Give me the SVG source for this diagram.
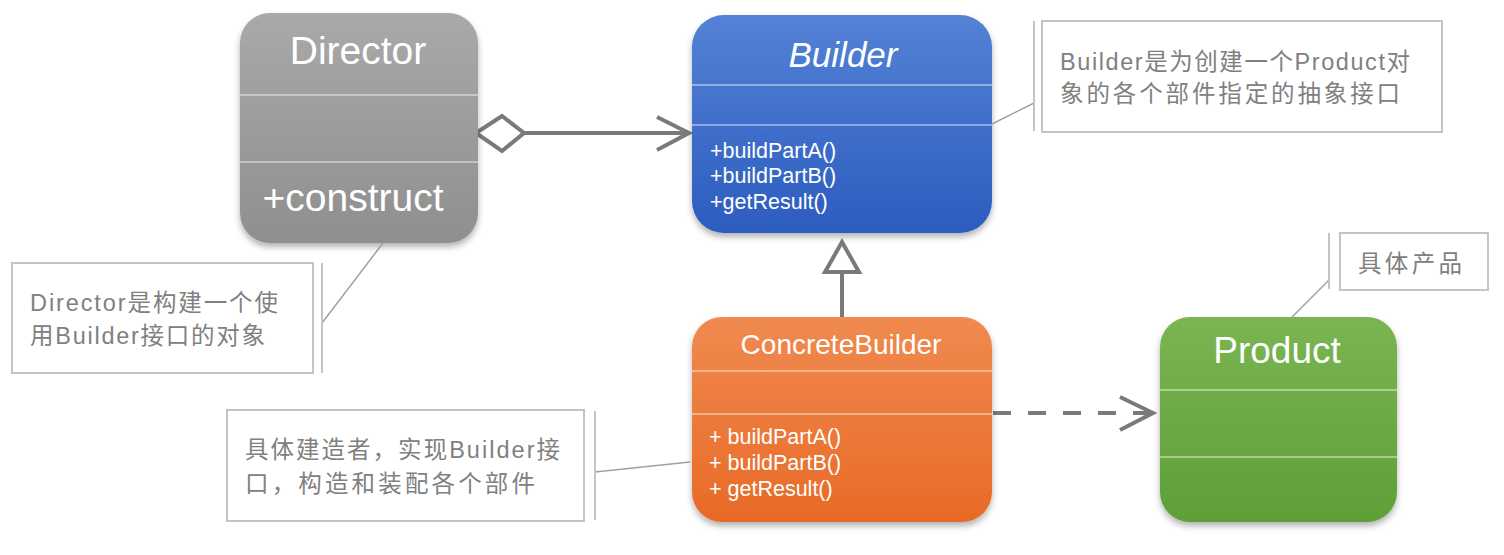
<svg xmlns="http://www.w3.org/2000/svg" width="1504" height="555" viewBox="0 0 1504 555">
<style>
.title{font-family:"Liberation Sans","Noto Sans CJK SC",sans-serif;fill:#ffffff;text-anchor:middle}
.meth{font-family:"Liberation Sans","Noto Sans CJK SC",sans-serif;fill:#ffffff;font-size:21.5px}
.note{font-family:"Liberation Sans","Noto Sans CJK SC",sans-serif;fill:#808080;font-size:23.5px}
.nbox{fill:#ffffff;stroke:#c4c4c4;stroke-width:2}
.nbar{stroke:#c4c4c4;stroke-width:2}
.lead{stroke:#a0a0a0;stroke-width:1.5;fill:none}
.div{stroke:#ffffff;stroke-opacity:0.55;stroke-width:1.5}
.conn{stroke:#7a7a7a;stroke-width:4;fill:none}
</style>
<defs>
<linearGradient id="gGray" x1="0" y1="0" x2="0" y2="1"><stop offset="0" stop-color="#a9a9a9"/><stop offset="1" stop-color="#8f8f8f"/></linearGradient>
<linearGradient id="gBlue" x1="0" y1="0" x2="0" y2="1"><stop offset="0" stop-color="#5482d6"/><stop offset="1" stop-color="#2c5cbf"/></linearGradient>
<linearGradient id="gOrange" x1="0" y1="0" x2="0" y2="1"><stop offset="0" stop-color="#f08a50"/><stop offset="1" stop-color="#e86a26"/></linearGradient>
<linearGradient id="gGreen" x1="0" y1="0" x2="0" y2="1"><stop offset="0" stop-color="#7ab552"/><stop offset="1" stop-color="#5e9f38"/></linearGradient>
<filter id="sh" x="-10%" y="-10%" width="120%" height="125%"><feDropShadow dx="0" dy="4" stdDeviation="3" flood-color="#000" flood-opacity="0.3"/></filter>
</defs>
<rect width="1504" height="555" fill="#ffffff"/>

<g id="connectors">
  <line class="conn" x1="523" y1="133" x2="688" y2="133"/>
  <polygon class="conn" points="476,133 502,116 524,133 502,151" fill="#ffffff"/>
  <polyline class="conn" points="657,117 689,133 657,150"/>
  <line class="conn" x1="842" y1="317" x2="842" y2="272"/>
  <polygon class="conn" points="842,242 859,272 825,272" fill="#ffffff"/>
  <line class="conn" x1="993" y1="413" x2="1150" y2="413" stroke-width="5" stroke-dasharray="18 17"/>
  <polyline class="conn" points="1120,397 1153,413 1120,430" stroke-width="5"/>
</g>

<g id="director">
  <rect x="240" y="13" width="238" height="230" rx="30" fill="url(#gGray)" filter="url(#sh)"/>
  <line class="div" x1="240" y1="95" x2="478" y2="95"/>
  <line class="div" x1="240" y1="162" x2="478" y2="162"/>
  <text class="title" x="358" y="64" font-size="39">Director</text>
  <text class="title" x="353" y="211" font-size="39">+construct</text>
</g>

<g id="builder">
  <rect x="692" y="15" width="300" height="218" rx="32" fill="url(#gBlue)" filter="url(#sh)"/>
  <line class="div" x1="692" y1="85" x2="992" y2="85"/>
  <line class="div" x1="692" y1="125" x2="992" y2="125"/>
  <text class="title" x="843" y="67" font-size="35" font-style="italic">Builder</text>
  <text class="meth" x="710" y="158">+buildPartA()</text>
  <text class="meth" x="710" y="183">+buildPartB()</text>
  <text class="meth" x="710" y="209">+getResult()</text>
</g>

<g id="concretebuilder">
  <rect x="692" y="317" width="300" height="205" rx="30" fill="url(#gOrange)" filter="url(#sh)"/>
  <line class="div" x1="692" y1="371" x2="992" y2="371"/>
  <line class="div" x1="692" y1="414" x2="992" y2="414"/>
  <text class="title" x="841" y="354" font-size="28">ConcreteBuilder</text>
  <text class="meth" x="709" y="444">+ buildPartA()</text>
  <text class="meth" x="709" y="470">+ buildPartB()</text>
  <text class="meth" x="709" y="496">+ getResult()</text>
</g>

<g id="product">
  <rect x="1160" y="317" width="237" height="205" rx="30" fill="url(#gGreen)" filter="url(#sh)"/>
  <line class="div" x1="1160" y1="390" x2="1397" y2="390"/>
  <line class="div" x1="1160" y1="457" x2="1397" y2="457"/>
  <text class="title" x="1277" y="363" font-size="37">Product</text>
</g>

<g id="note-builder">
  <line class="lead" x1="992" y1="124" x2="1034" y2="103"/>
  <line class="nbar" x1="1034" y1="21" x2="1034" y2="131"/>
  <rect class="nbox" x="1042" y="21" width="400" height="111"/>
  <text class="note" x="1060" y="70" textLength="350" lengthAdjust="spacing">Builder是为创建一个Product对</text>
  <text class="note" x="1060" y="102" textLength="340" lengthAdjust="spacing">象的各个部件指定的抽象接口</text>
</g>

<g id="note-director">
  <line class="lead" x1="322" y1="323" x2="383" y2="243"/>
  <line class="nbar" x1="322" y1="263" x2="322" y2="373"/>
  <rect class="nbox" x="12" y="263" width="301" height="110"/>
  <text class="note" x="30" y="311" textLength="248" lengthAdjust="spacing">Director是构建一个使</text>
  <text class="note" x="30" y="344" textLength="235" lengthAdjust="spacing">用Builder接口的对象</text>
</g>

<g id="note-concretebuilder">
  <line class="lead" x1="595" y1="472" x2="690" y2="462"/>
  <line class="nbar" x1="595" y1="411" x2="595" y2="520"/>
  <rect class="nbox" x="227" y="410" width="357" height="111"/>
  <text class="note" x="245" y="458" textLength="315" lengthAdjust="spacing">具体建造者，实现Builder接</text>
  <text class="note" x="245" y="492" textLength="290" lengthAdjust="spacing">口，构造和装配各个部件</text>
</g>

<g id="note-product">
  <line class="lead" x1="1329" y1="280" x2="1292" y2="317"/>
  <line class="nbar" x1="1329" y1="233" x2="1329" y2="289"/>
  <rect class="nbox" x="1340" y="233" width="148" height="57"/>
  <text class="note" x="1358" y="272" textLength="104" lengthAdjust="spacing">具体产品</text>
</g>
</svg>
